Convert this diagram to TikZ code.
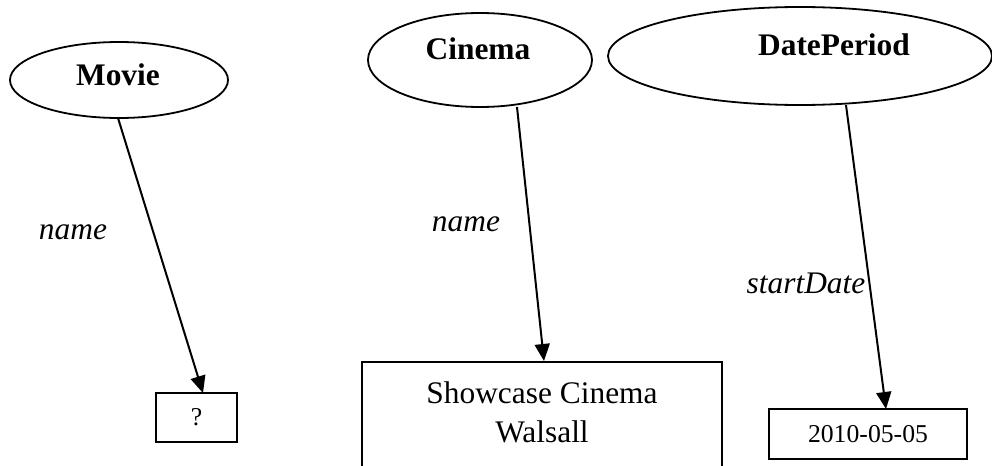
\documentclass[tikz,border=0pt]{standalone}
\usepackage{fontspec}
\setmainfont{Liberation Serif}
\usetikzlibrary{shapes.geometric,arrows.meta}
\begin{document}
\begin{tikzpicture}[x=0.5pt,y=-0.5pt,
  ent/.style={draw,ellipse,line width=0.9pt,inner sep=0pt},
  lbl/.style={font=\fontsize{15.7}{19.5}\selectfont\bfseries,inner sep=0pt},
  rel/.style={font=\fontsize{15.7}{19.5}\selectfont\itshape,inner sep=0pt},
  valbox/.style={draw,rectangle,line width=0.9pt,inner sep=0pt,font=\fontsize{12.85}{15}\selectfont},
  arr/.style={line width=1pt,-{Triangle[length=8.5pt,width=7.5pt]}}]
\useasboundingbox (0,0) rectangle (992,466);
\clip (0,0) rectangle (992,466);
% entities
\node[ent,minimum width=109pt,minimum height=38pt] (movie) at (119,80) {};
\node[lbl] (movielbl) at (118,75) {Movie};
\node[ent,minimum width=112pt,minimum height=47pt] (cinema) at (480,60) {};
\node[lbl] (cinemalbl) at (478,49) {Cinema};
\node[ent,minimum width=192pt,minimum height=49pt] (dateperiod) at (800,56) {};
\node[lbl] (dateperiodlbl) at (834,45) {DatePeriod};
% values
\node[valbox,minimum width=40.5pt,minimum height=24.5pt] (q) at (196.5,417.5) {?};
\node[draw,rectangle,line width=0.9pt,minimum width=180pt,minimum height=100pt,anchor=north] (showcase) at (542,361) {};
\node[align=center,inner sep=0pt,font=\fontsize{15.7}{19.5}\selectfont] (showcasetxt) at (542,412.5) {Showcase Cinema\\Walsall};
\node[valbox,minimum width=99pt,minimum height=25pt] (date) at (868,434) {2010-05-05};
% connector end points
\coordinate (m1) at (118,118);
\coordinate (m2) at (203,393);
\coordinate (c1) at (517,107);
\coordinate (c2) at (544,361);
\coordinate (d1) at (846,105);
\coordinate (d2) at (886,409);
\draw[arr] (m1) -- (m2);
\draw[arr] (c1) -- (c2);
\draw[arr] (d1) -- (d2);
% relation labels
\node[rel] (mname) at (73,232) {name};
\node[rel] (cname) at (466,224) {name};
\node[rel] (sdate) at (806,283) {startDate};
\end{tikzpicture}
\end{document}
